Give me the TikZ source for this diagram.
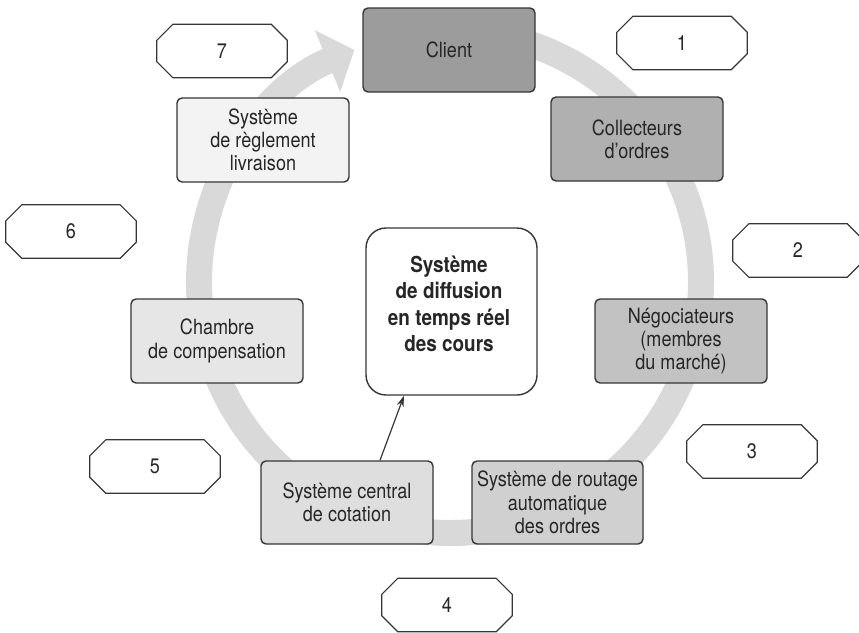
\documentclass[tikz,border=0pt]{standalone}
\usepackage{fontspec}
\setmainfont{TeX Gyre Heros}[FakeStretch=0.86]
\usetikzlibrary{calc,arrows.meta}
\definecolor{ringgray}{HTML}{D9D9D9}
\definecolor{edge}{HTML}{363636}
\definecolor{txt}{HTML}{262626}
\definecolor{fclient}{HTML}{9C9C9C}
\definecolor{fcoll}{HTML}{B0B0B0}
\definecolor{fnego}{HTML}{C2C2C2}
\definecolor{frout}{HTML}{D0D0D0}
\definecolor{fcent}{HTML}{DEDEDE}
\definecolor{fcham}{HTML}{E6E6E6}
\definecolor{fregl}{HTML}{F3F3F3}
\begin{document}
\begin{tikzpicture}[x=1pt,y=-1pt,
  box/.style={draw=edge, line width=1.4pt, rounded corners=5pt, minimum width=172pt, minimum height=84pt, inner sep=0pt, align=center, font=\fontsize{21}{23.3}\selectfont, text=txt},
  bigbox/.style={draw=edge, line width=1.4pt, rounded corners=20pt, minimum width=171pt, minimum height=167pt, inner sep=0pt, fill=white},
  bigtext/.style={align=center, font=\fontsize{22}{26.5}\selectfont\bfseries, text=txt},
  octo/.style={minimum width=130pt, minimum height=53pt, inner sep=0pt, font=\fontsize{21}{22}\selectfont, text=txt},
  octoline/.style={draw=edge, line width=1.2pt},
  ring/.style={draw=ringgray, line width=26pt},
  conn/.style={draw=edge, line width=1.2pt, -{Stealth[length=11pt,width=7pt]}}
]
\fill[white] (0,0) rectangle (859,632);
\useasboundingbox (0,0) rectangle (859,632);

% circular flow ring
\coordinate (ringc) at (450,282);
\draw[ring, -{Triangle[width=65pt,length=29pt]}] ([shift={(-85:251)}]ringc) arc[start angle=-85, end angle=247.6, radius=251];

% boxes
\node[box, fill=fclient] (client) at (449,50) {Client};
\node[box, fill=fcoll] (coll) at (637,139) {Collecteurs\\d’ordres};
\node[box, fill=fnego] (nego) at (681,341) {Négociateurs\\(membres\\du marché)};
\node[box, fill=frout, minimum width=171pt, minimum height=83pt] (rout) at (557.5,502.5) {Système de routage\\automatique\\des ordres};
\node[box, fill=fcent, minimum height=83pt] (central) at (347,502.5) {Système central\\de cotation};
\node[box, fill=fcham] (chambre) at (217,341) {Chambre\\de compensation};
\node[box, fill=fregl] (regl) at (263,140) {Système\\de règlement\\livraison};

\node[bigbox] (diff) at (451.5,311.5) {};
\node[bigtext] (difftext) at (449,304) {Système\\de diffusion\\en temps réel\\des cours};

\draw[conn] ([xshift=33pt]central.north) -- ([xshift=-47.5pt]diff.south);

% numbered octagons
\node[octo] (o1) at (682,43) {1};
\node[octo] (o2) at (798,250.5) {2};
\node[octo] (o3) at (752,451.5) {3};
\node[octo] (o4) at (447,605) {4};
\node[octo] (o5) at (155,466.5) {5};
\node[octo] (o6) at (71,231.5) {6};
\node[octo] (o7) at (222,51) {7};
\foreach \n in {o1,o2,o3,o4,o5,o6,o7}{
  \draw[octoline] ($(\n.north west)+(16,0)$) -- ($(\n.north east)+(-16,0)$) -- ($(\n.north east)+(0,16)$) -- ($(\n.south east)+(0,-16)$) -- ($(\n.south east)+(-16,0)$) -- ($(\n.south west)+(16,0)$) -- ($(\n.south west)+(0,-16)$) -- ($(\n.north west)+(0,16)$) -- cycle;
}
\end{tikzpicture}
\end{document}
